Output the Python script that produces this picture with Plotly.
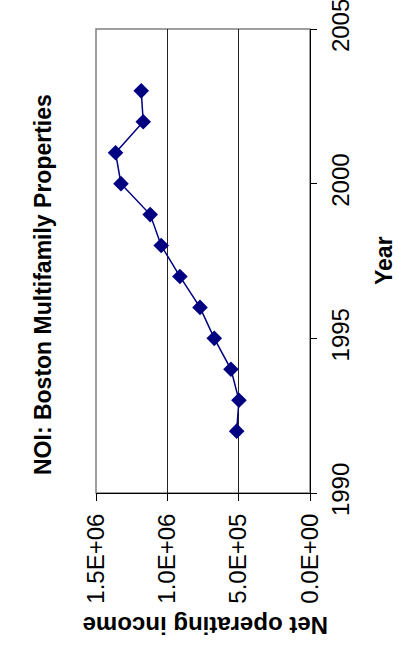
import plotly.graph_objects as go

# Net operating income, Boston multifamily properties
years = [1992, 1993, 1994, 1995, 1996, 1997, 1998, 1999, 2000, 2001, 2002, 2003]
noi = [514000, 498000, 554000, 671000, 771000, 912000, 1043000, 1120000,
       1325000, 1363000, 1169000, 1183000]

noi_ticks = [0, 500000, 1000000, 1500000]
noi_tick_labels = ["0.0E+00", "5.0E+05", "1.0E+06", "1.5E+06"]
year_ticks = [1990, 1995, 2000, 2005]

title_text = "<b>NOI: Boston Multifamily Properties</b>"
x_title = "<b>Net operating income</b>"
y_title = "<b>Year</b>"

FONT = "Liberation Sans, Arial, sans-serif"
NAVY = "#000080"

# plot area in pixels
W, H = 398, 646
L, R, T, B = 96, 310, 29, 493

fig = go.Figure()
fig.add_trace(go.Scatter(
    x=noi, y=years, mode="lines+markers",
    line=dict(color=NAVY, width=1.5),
    marker=dict(symbol="diamond", size=12, color=NAVY),
    showlegend=False,
))


def px_x(p):
    return (p - L) / (R - L)


def px_y(p):
    return (B - p) / (B - T)


fig.update_layout(
    width=W, height=H,
    margin=dict(l=L, r=W - R, t=T, b=H - B, autoexpand=False),
    paper_bgcolor="white", plot_bgcolor="white",
    font=dict(family=FONT, size=24, color="black"),
    xaxis=dict(
        range=[1500000, 0], tickvals=noi_ticks, ticktext=noi_tick_labels,
        tickangle=-90, ticks="outside", ticklen=7, tickcolor="black",
        showline=True, linecolor="black", linewidth=1,
        showgrid=True, gridcolor="#222222", gridwidth=1, zeroline=False,
        ticklabelstandoff=3, tickfont=dict(size=24),
        ticklabeloverflow="allow", automargin=False,
    ),
    yaxis=dict(
        range=[1990, 2005], tickvals=year_ticks, side="right",
        tickangle=-90, ticks="outside", ticklen=6, tickcolor="black",
        showline=True, linecolor="black", linewidth=1,
        showgrid=False, zeroline=False,
        ticklabelstandoff=3, tickfont=dict(size=24),
        ticklabeloverflow="allow", automargin=False,
    ),
    shapes=[dict(
        type="rect", xref="x domain", yref="y domain", x0=0, x1=1, y0=0, y1=1,
        line=dict(color="#808080", width=1.5), layer="below",
    )],
    annotations=[
        dict(text=title_text, textangle=-90, xref="paper", yref="paper",
             x=px_x(43), y=px_y(285), xanchor="center", yanchor="middle",
             showarrow=False, font=dict(size=23)),
        dict(text=y_title, textangle=-90, xref="paper", yref="paper",
             x=px_x(384), y=px_y(261), xanchor="center", yanchor="middle",
             showarrow=False, font=dict(size=23)),
        dict(text=x_title, textangle=180, xref="paper", yref="paper",
             x=px_x(206), y=px_y(626), xanchor="center", yanchor="middle",
             showarrow=False, font=dict(size=24)),
    ],
)

fig.write_html("out.html")
